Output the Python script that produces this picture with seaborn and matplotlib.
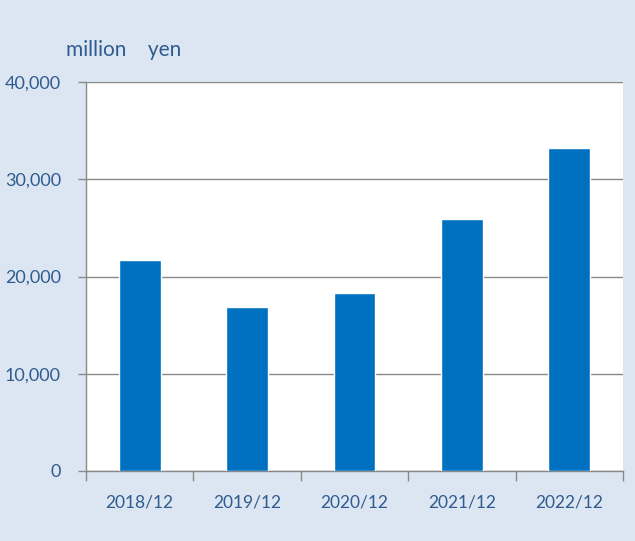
import numpy as np
import pandas as pd
import matplotlib
matplotlib.use("Agg")
import matplotlib.pyplot as plt
import seaborn as sns
from matplotlib.ticker import FuncFormatter, FixedLocator

periods = ["2018/12", "2019/12", "2020/12", "2021/12", "2022/12"]
values = [21700, 16900, 18300, 25900, 33200]
y_ticks = [0, 10000, 20000, 30000, 40000]

bg = "#dce6f2"
bar_color = "#0070c0"
text_color = "#2f5b8f"
grid_color = "#898989"

sns.set_style("white")
plt.rcParams["font.family"] = ["Lato", "DejaVu Sans"]

df = pd.DataFrame({"period": periods, "value": values})

fig = plt.figure(figsize=(6.35, 5.41), dpi=100, facecolor=bg)
ax = fig.add_axes([0.1354, 0.1294, 0.8457, 0.719])
ax.set_facecolor("white")

sns.barplot(data=df, x="period", y="value", color=bar_color, width=0.39,
            saturation=1, ax=ax, zorder=3)

ax.set_ylim(0, 40000)
ax.set_xlim(-0.5, len(periods) - 0.5)
ax.set_yticks(y_ticks)
ax.yaxis.set_major_formatter(FuncFormatter(lambda v, p: f"{int(v):,}"))
ax.grid(axis="y", color=grid_color, linewidth=1, zorder=0)
ax.set_axisbelow(True)

for s in ["top", "right"]:
    ax.spines[s].set_visible(False)
for s in ["left", "bottom"]:
    ax.spines[s].set_color(grid_color)
    ax.spines[s].set_linewidth(1)

ax.tick_params(axis="y", length=6, width=1, color=grid_color, pad=12,
               labelsize=13, labelcolor=text_color, left=True)
ax.tick_params(axis="x", which="major", length=0, pad=17,
               labelsize=12.5, labelcolor=text_color)
ax.xaxis.set_minor_locator(FixedLocator(np.arange(-0.5, len(periods), 1.0)))
ax.tick_params(axis="x", which="minor", length=7, width=1, color=grid_color,
               bottom=True)

ax.set_xlabel("")
ax.set_ylabel("")

fig.text(66 / 635, 1 - 50 / 541, "million    yen", fontsize=15,
         color=text_color, va="center", ha="left")

fig.savefig("out.png", dpi=100, facecolor=bg)
